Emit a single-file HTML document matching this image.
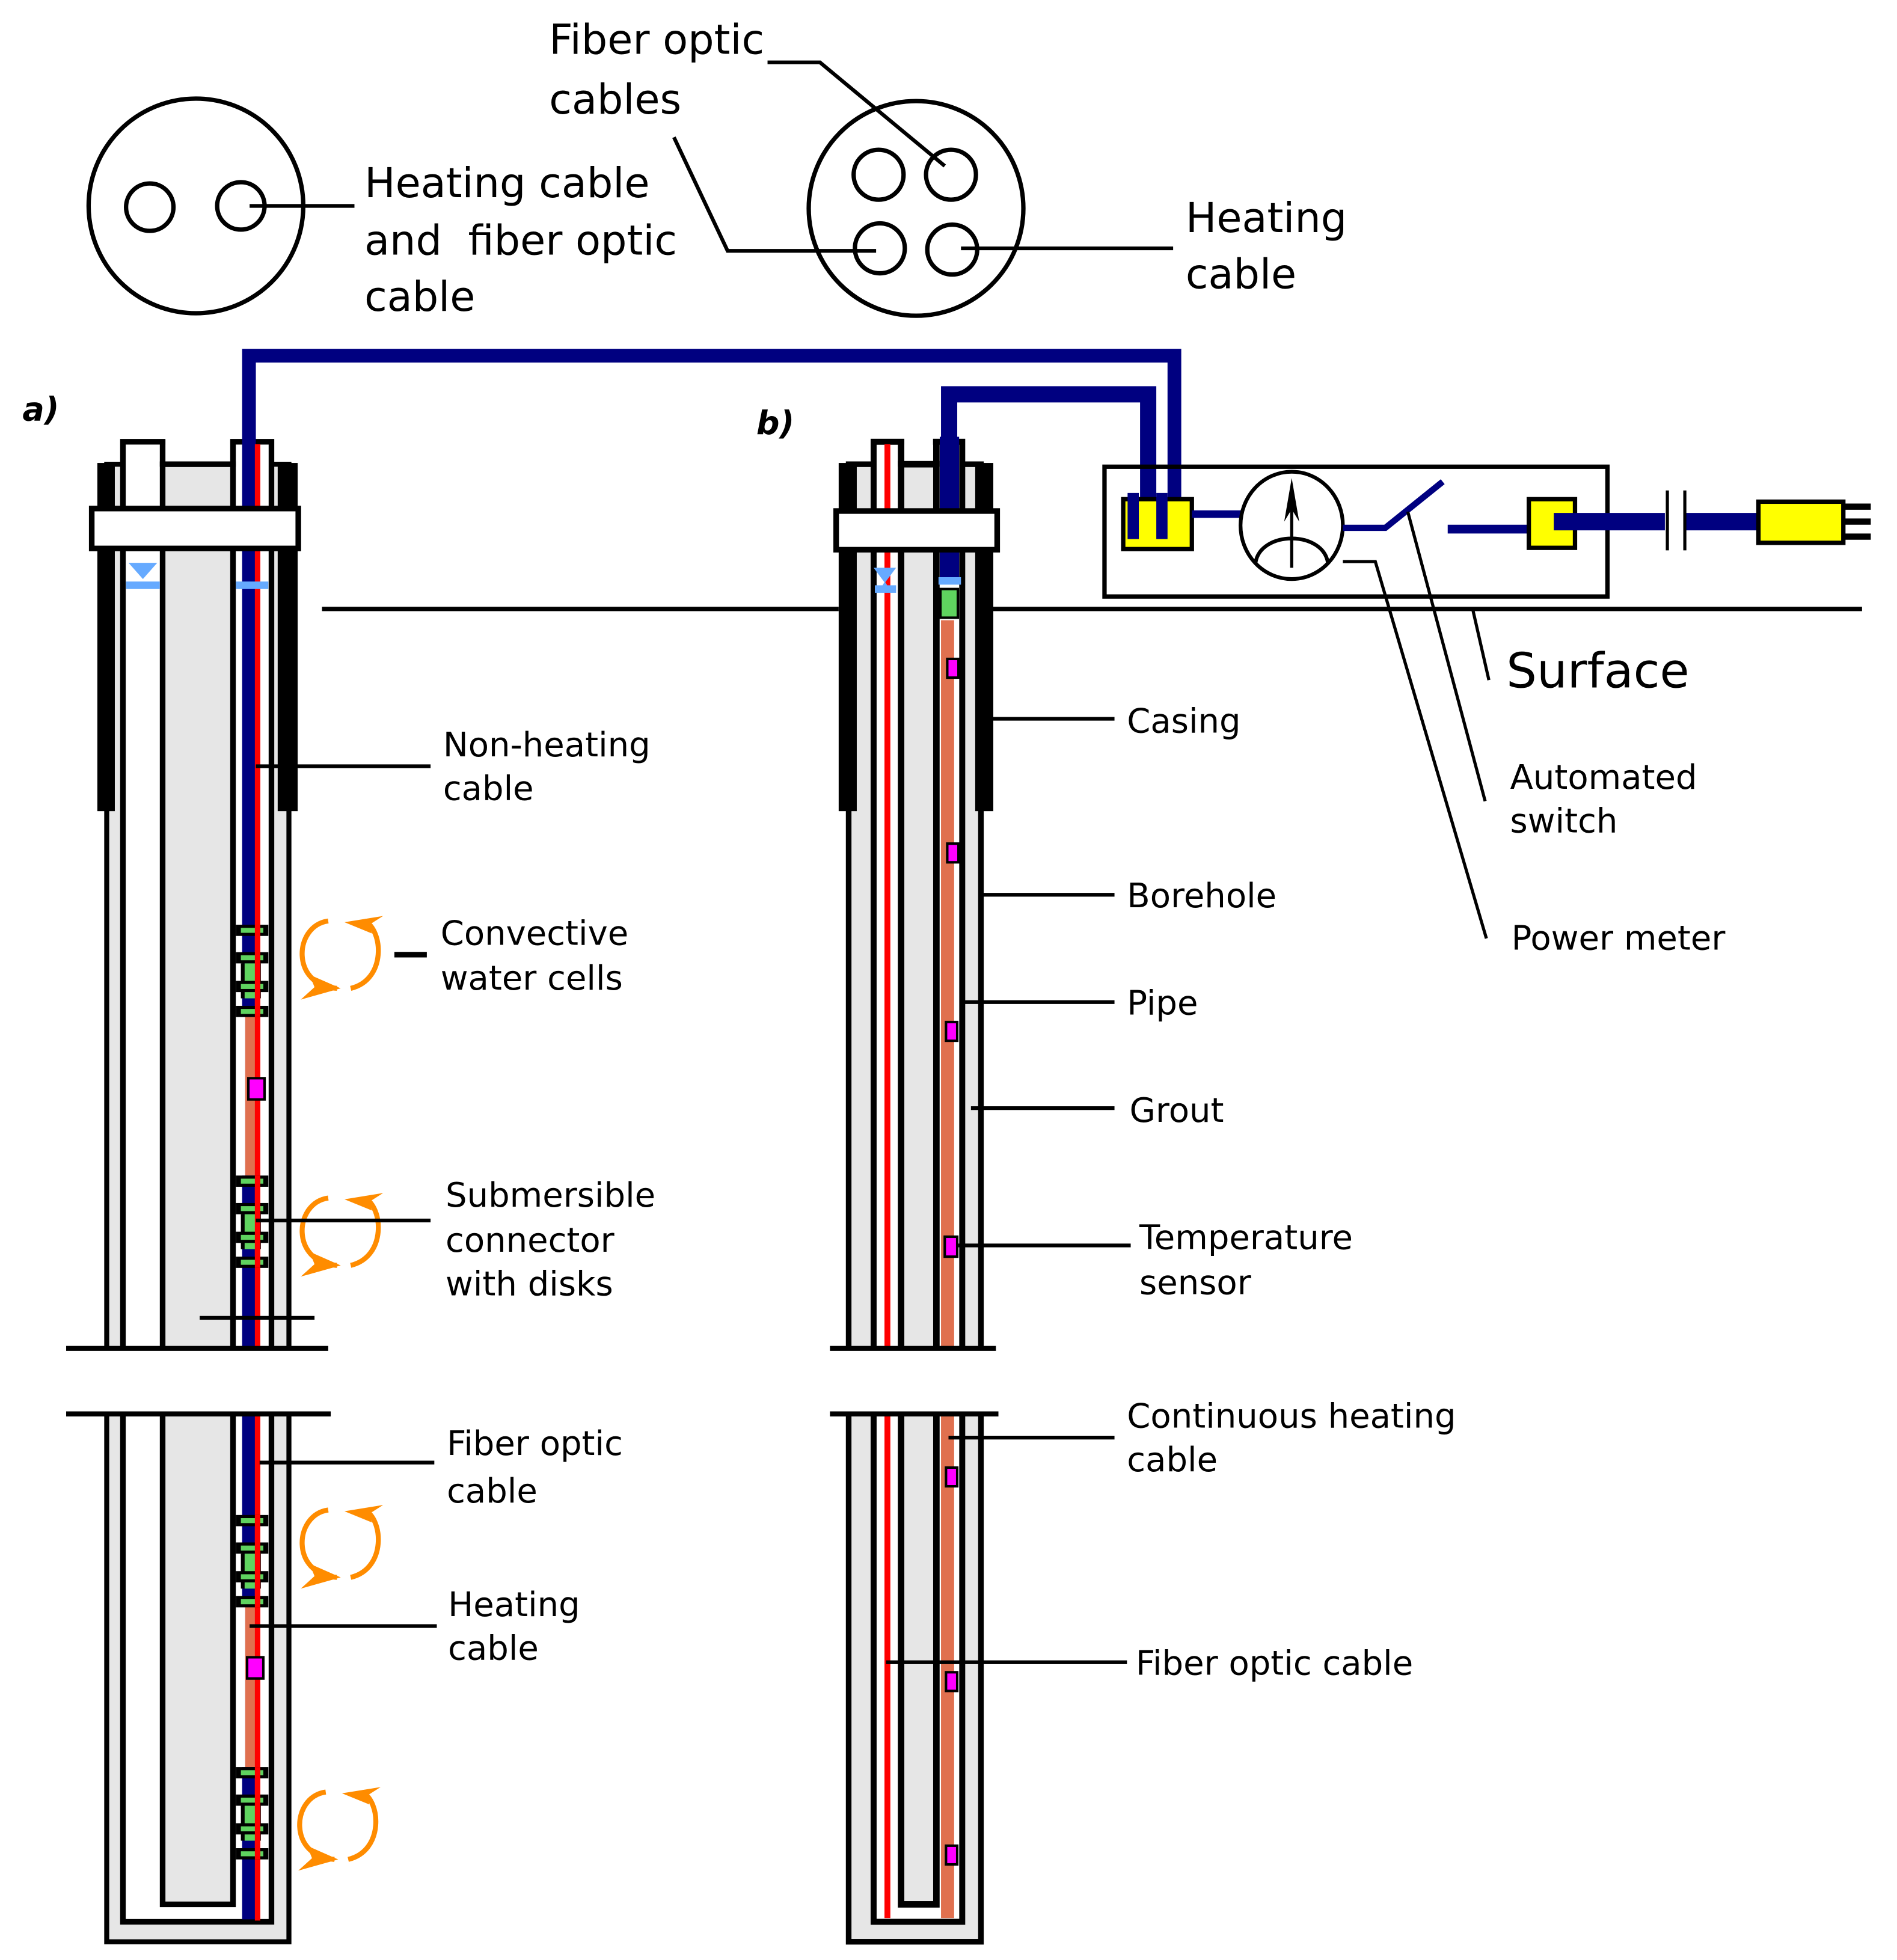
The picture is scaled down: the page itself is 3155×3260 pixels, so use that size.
<!DOCTYPE html>
<html><head><meta charset="utf-8"><style>html,body{margin:0;padding:0;background:#fff}svg{display:block}</style></head>
<body>
<svg xmlns="http://www.w3.org/2000/svg" width="3155" height="3260" viewBox="0 0 1520 1570.6" font-family="'DejaVu Sans','Liberation Sans',sans-serif">
<rect x="0" y="0" width="1520" height="1571" fill="#fff"/>
<!-- top cross sections -->
<g fill="none" stroke="#000" stroke-width="3.5">
<circle cx="157" cy="165" r="86"/>
<circle cx="120" cy="166" r="19"/>
<circle cx="193" cy="165" r="19"/>
<circle cx="734" cy="167" r="86"/>
<circle cx="704" cy="140" r="20"/>
<circle cx="762" cy="140" r="20"/>
<circle cx="705" cy="199" r="20"/>
<circle cx="763" cy="200" r="20"/>
</g>
<g stroke="#000" stroke-width="3" fill="none">
<line x1="200" y1="165" x2="284" y2="165"/>
<polyline points="615,50 657,50 757,133"/>
<polyline points="540,110 583,201 702,201"/>
<line x1="770" y1="199" x2="940" y2="199"/>
</g>
<g font-size="33" fill="#000">
<text x="440" y="43">Fiber optic</text>
<text x="440" y="91">cables</text>
<text x="292" y="158">Heating cable</text>
<text x="292" y="204" xml:space="preserve">and  fiber optic</text>
<text x="292" y="249">cable</text>
<text x="950" y="186">Heating</text>
<text x="950" y="231">cable</text>
</g>
<text x="18" y="337" font-size="26" font-weight="bold" font-style="italic">a)</text>
<text x="606" y="348" font-size="26" font-weight="bold" font-style="italic">b)</text>

<!-- surface line -->
<g stroke="#000" stroke-width="3.5">
<line x1="258" y1="488" x2="672" y2="488"/>
<line x1="795" y1="488" x2="1492" y2="488"/>
</g>

<!-- ===== (a) ===== -->
<rect x="85.5" y="372" width="146" height="1184" fill="#e6e6e6" stroke="#000" stroke-width="4"/>
<rect x="98.5" y="354" width="119" height="1186" fill="#fff" stroke="#000" stroke-width="4.5"/>
<rect x="132.5" y="349" width="52" height="21" fill="#fff"/>
<rect x="130.3" y="372" width="56.4" height="1154" fill="#e6e6e6" stroke="#000" stroke-width="4.5"/>
<line x1="130.3" y1="352" x2="130.3" y2="374" stroke="#000" stroke-width="4.5"/>
<line x1="186.7" y1="352" x2="186.7" y2="374" stroke="#000" stroke-width="4.5"/>
<!-- cables a -->
<path d="M199.5 1538 V285 H941 V432" fill="none" stroke="#000080" stroke-width="11"/>
<rect x="193.5" y="812" width="3" height="130" fill="#fff"/>
<rect x="196.5" y="812" width="9" height="130" fill="#e0704f"/>
<rect x="193.5" y="1286" width="3" height="130" fill="#fff"/>
<rect x="196.5" y="1286" width="9" height="130" fill="#e0704f"/>
<rect x="204.2" y="356" width="4.4" height="1183" fill="#ff0000"/>
<!-- water levels a -->
<polygon points="103,451 126,451 114.5,464" fill="#66aaff"/>
<rect x="101" y="466" width="27" height="6" fill="#66aaff"/>
<rect x="189" y="466" width="26" height="6" fill="#66aaff"/>
<!-- connectors a -->
<g id="conn">
<rect x="189" y="741" width="26" height="9" fill="#000"/><rect x="193" y="743.5" width="18" height="4" fill="#5fd35f"/>
<rect x="189" y="763" width="26" height="9" fill="#000"/><rect x="193" y="765.5" width="18" height="4" fill="#5fd35f"/>
<rect x="193" y="772" width="4" height="28" fill="#000"/><rect x="205" y="772" width="4" height="28" fill="#000"/>
<rect x="196" y="772" width="10" height="28" fill="#5fd35f"/>
<rect x="189" y="786" width="26" height="9" fill="#000"/><rect x="193" y="788.5" width="18" height="4" fill="#5fd35f"/>
<rect x="189" y="806" width="26" height="9" fill="#000"/><rect x="193" y="808.5" width="18" height="4" fill="#5fd35f"/>
<rect x="204.2" y="741" width="4.4" height="74" fill="#ff0000"/>
</g>
<use href="#conn" transform="translate(0,201)"/>
<use href="#conn" transform="translate(0,473)"/>
<use href="#conn" transform="translate(0,675)"/>
<rect x="199" y="864" width="13" height="17" fill="#ff00ff" stroke="#000" stroke-width="2"/>
<rect x="198" y="1328" width="13" height="17" fill="#ff00ff" stroke="#000" stroke-width="2"/>
<!-- casing a -->
<rect x="78" y="371" width="14" height="279" fill="#000"/>
<rect x="222.5" y="371" width="16" height="279" fill="#000"/>
<rect x="73.5" y="407.5" width="165.5" height="32" fill="#fff" stroke="#000" stroke-width="4.5"/>
<!-- orange arrows -->
<g id="arr" fill="none" stroke="#ff8c00" stroke-width="4">
<path d="M263 738 C235 742 233 790 270 792"/>
<path d="M281 792 C310 785 307 745 292 738"/>
<polygon points="241,801 273,792 248,781 252,791" fill="#ff8c00" stroke="none"/>
<polygon points="307,734 276,739 298,748 296,741" fill="#ff8c00" stroke="none"/>
</g>
<use href="#arr" transform="translate(0,222)"/>
<use href="#arr" transform="translate(0,472)"/>
<use href="#arr" transform="translate(-2,698)"/>
<!-- (a) break -->
<line x1="160" y1="1056" x2="252" y2="1056" stroke="#000" stroke-width="3"/>
<rect x="40" y="1082" width="240" height="49" fill="#fff"/>
<line x1="53" y1="1080.5" x2="263" y2="1080.5" stroke="#000" stroke-width="4"/>
<line x1="53" y1="1133" x2="265" y2="1133" stroke="#000" stroke-width="4"/>
<!-- leaders a -->
<g stroke="#000" stroke-width="3">
<line x1="205" y1="614" x2="345" y2="614"/>
<line x1="316" y1="765" x2="342" y2="765" stroke-width="4.5"/>
<line x1="205" y1="978" x2="345" y2="978"/>
<line x1="208" y1="1172" x2="348" y2="1172"/>
<line x1="200" y1="1303" x2="350" y2="1303"/>
</g>
<g font-size="27" fill="#000">
<text x="355" y="606">Non-heating</text>
<text x="355" y="641">cable</text>
<text x="353" y="757">Convective</text>
<text x="353" y="793">water cells</text>
<text x="357" y="967">Submersible</text>
<text x="357" y="1003">connector</text>
<text x="357" y="1038">with disks</text>
<text x="358" y="1166">Fiber optic</text>
<text x="358" y="1204">cable</text>
<text x="359" y="1295">Heating</text>
<text x="359" y="1330">cable</text>
</g>

<!-- ===== (b) ===== -->
<rect x="680" y="372" width="106" height="1184" fill="#e6e6e6" stroke="#000" stroke-width="4.5"/>
<rect x="700" y="354" width="71" height="1186" fill="#fff" stroke="#000" stroke-width="4.8"/>
<rect x="724.6" y="349" width="23" height="21" fill="#fff"/>
<rect x="722" y="372" width="28.3" height="1154" fill="#e6e6e6" stroke="#000" stroke-width="5.2"/>
<line x1="722" y1="352" x2="722" y2="374" stroke="#000" stroke-width="5.2"/>
<line x1="750.3" y1="352" x2="750.3" y2="374" stroke="#000" stroke-width="5.2"/>
<rect x="708.7" y="356" width="4.7" height="1181" fill="#ff0000"/>
<path d="M760.5 462 V316 H920 V432" fill="none" stroke="#000080" stroke-width="13"/>
<rect x="753" y="350" width="15.5" height="113" fill="#000080"/>
<rect x="752" y="462.5" width="18" height="6" fill="#66aaff"/>
<rect x="752.5" y="471" width="16" height="25" fill="#000"/>
<rect x="754.5" y="473" width="12" height="21" fill="#5fd35f"/>
<rect x="754" y="497" width="10.5" height="1040" fill="#e0704f"/>
<polygon points="700,455 718,455 709,467" fill="#66aaff"/>
<polygon points="704,474 714,474 709,466" fill="#66aaff"/>
<rect x="701" y="469" width="17" height="6" fill="#66aaff"/>
<g fill="#ff00ff" stroke="#000" stroke-width="2">
<rect x="759" y="528" width="9" height="15"/>
<rect x="759" y="676" width="9" height="15"/>
<rect x="758" y="819" width="9" height="15"/>
<rect x="757" y="991" width="10" height="16"/>
<rect x="758" y="1176" width="9" height="15"/>
<rect x="758" y="1340" width="9" height="15"/>
<rect x="758" y="1479" width="9" height="15"/>
</g>
<rect x="672" y="371" width="14.5" height="279" fill="#000"/>
<rect x="781.4" y="371" width="14.5" height="279" fill="#000"/>
<rect x="670" y="409.5" width="129" height="31" fill="#fff" stroke="#000" stroke-width="4.5"/>
<rect x="655" y="1082" width="160" height="49" fill="#fff"/>
<line x1="665" y1="1080.5" x2="798" y2="1080.5" stroke="#000" stroke-width="4"/>
<line x1="665" y1="1133" x2="800" y2="1133" stroke="#000" stroke-width="4"/>
<g stroke="#000" stroke-width="3">
<line x1="793" y1="576" x2="893" y2="576"/>
<line x1="786" y1="717" x2="893" y2="717"/>
<line x1="772" y1="803" x2="893" y2="803"/>
<line x1="778" y1="888" x2="893" y2="888"/>
<line x1="768" y1="998" x2="906" y2="998"/>
<line x1="760" y1="1152" x2="893" y2="1152"/>
<line x1="710" y1="1332" x2="903" y2="1332"/>
</g>
<g font-size="27" fill="#000">
<text x="903" y="587">Casing</text>
<text x="903" y="727">Borehole</text>
<text x="903" y="813">Pipe</text>
<text x="905" y="899">Grout</text>
<text x="913" y="1001">Temperature</text>
<text x="913" y="1037">sensor</text>
<text x="903" y="1144">Continuous heating</text>
<text x="903" y="1179">cable</text>
<text x="910" y="1342">Fiber optic cable</text>
</g>

<!-- ===== control box ===== -->
<rect x="885" y="374" width="403" height="104" fill="none" stroke="#000" stroke-width="3.5"/>
<rect x="900" y="400" width="55" height="40" fill="#ffff00" stroke="#000" stroke-width="3.5"/>
<line x1="908" y1="395" x2="908" y2="432" stroke="#000080" stroke-width="9"/>
<line x1="931" y1="395" x2="931" y2="432" stroke="#000080" stroke-width="9"/>
<line x1="955" y1="412" x2="995" y2="412" stroke="#000080" stroke-width="6"/>
<ellipse cx="1035" cy="421" rx="41" ry="43" fill="#fff" stroke="#000" stroke-width="3"/>
<line x1="1035" y1="390" x2="1035" y2="455" stroke="#000" stroke-width="2.5"/>
<polygon points="1035,383 1029,418 1035,408 1041,418" fill="#000"/>
<path d="M1006 451 C1010 425 1060 425 1064 451" fill="none" stroke="#000" stroke-width="3"/>
<polyline points="1076,423 1110,423 1156,386" fill="none" stroke="#000080" stroke-width="5"/>
<line x1="1160" y1="424" x2="1226" y2="424" stroke="#000080" stroke-width="7"/>
<rect x="1225" y="400" width="37" height="39" fill="#ffff00" stroke="#000" stroke-width="3.5"/>
<line x1="1245" y1="418" x2="1410" y2="418" stroke="#000080" stroke-width="14"/>
<rect x="1334" y="395" width="15" height="46" fill="#fff"/>
<line x1="1336" y1="393" x2="1336" y2="441" stroke="#000" stroke-width="2.5"/>
<line x1="1350" y1="393" x2="1350" y2="441" stroke="#000" stroke-width="2.5"/>
<rect x="1409" y="402" width="68" height="33" fill="#ffff00" stroke="#000" stroke-width="3.5"/>
<g stroke="#000" stroke-width="5">
<line x1="1477" y1="406" x2="1499" y2="406"/>
<line x1="1477" y1="418" x2="1499" y2="418"/>
<line x1="1477" y1="430" x2="1499" y2="430"/>
</g>
<g stroke="#000" stroke-width="2.5" fill="none">
<polyline points="1076,450 1102,450 1191,752"/>
<line x1="1128" y1="410" x2="1190" y2="642"/>
<line x1="1180" y1="488" x2="1193" y2="545"/>
</g>
<text x="1207" y="551" font-size="38.5">Surface</text>
<g font-size="27">
<text x="1210" y="632">Automated</text>
<text x="1210" y="667">switch</text>
<text x="1211" y="761">Power meter</text>
</g>
</svg>
</body></html>
